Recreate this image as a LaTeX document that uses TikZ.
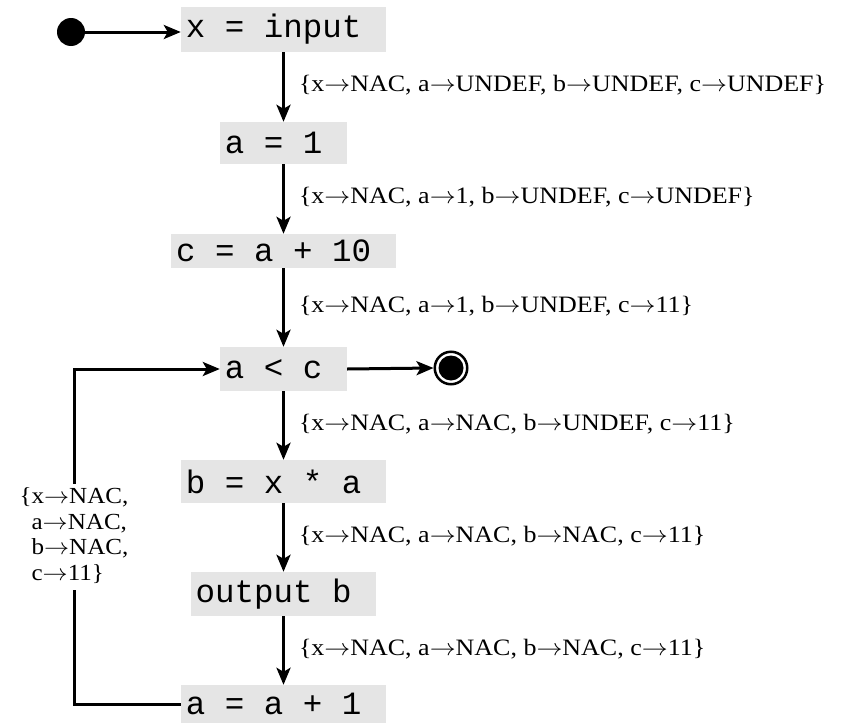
\RequirePackage{fix-cm}
\documentclass[tikz,border=0pt]{standalone}
\usepackage{fontspec}
\usepackage{graphicx}
\setmainfont{Liberation Serif}
\setmonofont{Liberation Mono}
\usetikzlibrary{arrows.meta}
\newcommand{\ar}{\ensuremath{\rightarrow}}
\newcommand{\lbltext}[1]{\scalebox{1.105}[1]{#1}}
\newcommand{\looptext}[1]{\scalebox{1.09}[1]{#1}}
\begin{document}
\begin{tikzpicture}[x=1pt,y=-1pt,
  stmt/.style={fill=black!10, inner xsep=5pt, inner ysep=0pt, minimum height=43pt,
    font=\ttfamily\fontsize{32.5}{36}\selectfont},
  flow/.style={line width=3pt, -{Stealth[length=17pt,width=14pt,inset=4pt]}},
  lbl/.style={font=\fontsize{23.5}{25.5}\selectfont, inner sep=0pt, anchor=west,
    xshift=14pt, yshift=1.5pt},
  looplbl/.style={font=\fontsize{23}{25.5}\selectfont, fill=white,
    inner xsep=0pt, inner ysep=2pt}]
\useasboundingbox (0,0) rectangle (852,723);
\node[stmt, minimum height=45pt] (n1) at (283.5,29.5) {x = input\phantom{x}};
\node[stmt, minimum height=42pt] (n2) at (283.5,143) {a = 1\phantom{x}};
\node[stmt, minimum height=34pt] (n3) at (283.5,251) {c = a + 10\phantom{x}};
\node[stmt, minimum height=44pt] (n4) at (283.5,369) {a < c\phantom{x}};
\node[stmt, minimum height=43pt] (n5) at (283.5,481.5) {b = x * a\phantom{x}};
\node[stmt, minimum height=44pt] (n6) at (283.5,594) {output b\phantom{x}};
\node[stmt, minimum height=38pt] (n7) at (283.5,704) {a = a + 1\phantom{x}};
\node[circle, fill=black, minimum size=28pt, inner sep=0pt] (start) at (71,32) {};
\node[circle, draw=black, line width=2.5pt, fill=white, minimum size=32.5pt, inner sep=0pt] (stop) at (451,368) {};
\fill[black] (stop.center) circle (12.5pt);
\coordinate (loopx) at (74,540);
\draw[flow] (start.east) -- (start.east -| n1.west);
\draw[flow] (n1) -- (n2) node[lbl, midway] {\lbltext{\{x\ar NAC, a\ar UNDEF, b\ar UNDEF, c\ar UNDEF\}}};
\draw[flow] (n2) -- (n3) node[lbl, midway] {\lbltext{\{x\ar NAC, a\ar 1, b\ar UNDEF, c\ar UNDEF\}}};
\draw[flow] (n3) -- (n4) node[lbl, midway] {\lbltext{\{x\ar NAC, a\ar 1, b\ar UNDEF, c\ar 11\}}};
\draw[flow] (n4) -- (n5) node[lbl, midway] {\lbltext{\{x\ar NAC, a\ar NAC, b\ar UNDEF, c\ar 11\}}};
\draw[flow] (n5) -- (n6) node[lbl, midway] {\lbltext{\{x\ar NAC, a\ar NAC, b\ar NAC, c\ar 11\}}};
\draw[flow] (n6) -- (n7) node[lbl, midway] {\lbltext{\{x\ar NAC, a\ar NAC, b\ar NAC, c\ar 11\}}};
\draw[flow] (n4.east) -- (stop.west);
\draw[flow] (n7.west) -| (loopx) |- (n4.west);
\node[looplbl] (lp) at (74,537) {\looptext{\begin{tabular}{@{}l@{}}\{x\ar NAC,\\\phantom{\{}a\ar NAC,\\\phantom{\{}b\ar NAC,\\\phantom{\{}c\ar 11\}\end{tabular}}};
\end{tikzpicture}
\end{document}
